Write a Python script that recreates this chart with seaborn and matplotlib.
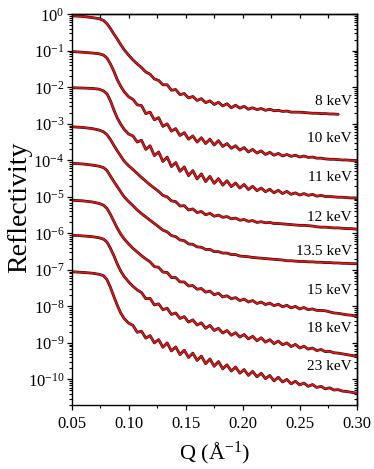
import numpy as np
import pandas as pd
import matplotlib
matplotlib.use("Agg")
import matplotlib.pyplot as plt
import matplotlib.transforms as mtransforms
from matplotlib.ticker import (LogLocator, NullFormatter, LogFormatterMathtext,
                               MultipleLocator, FormatStrFormatter)
import seaborn as sns

# ---------------- data (log10 of reflectivity) ----------------
q_values = [0.050, 0.060, 0.068, 0.074, 0.078, 0.081, 0.084, 0.087, 0.090, 0.093, 0.096, 0.100,
            0.10375, 0.1075, 0.11125, 0.115, 0.11875, 0.1225, 0.12625, 0.130, 0.13375, 0.1375,
            0.14125, 0.145, 0.14875, 0.1525, 0.15625, 0.160, 0.16375, 0.1675, 0.17125, 0.175,
            0.17875, 0.1825, 0.18625, 0.190, 0.19375, 0.1975, 0.20125, 0.205, 0.20875, 0.2125,
            0.21625, 0.220, 0.22375, 0.2275, 0.23125, 0.235, 0.23875, 0.2425, 0.24625, 0.250,
            0.25375, 0.2575, 0.26125, 0.265, 0.26875, 0.2725, 0.27625, 0.280, 0.28375, 0.2875,
            0.29125, 0.295, 0.29875, 0.300]

nan = float("nan")

log_r_8kev = [-0.04, -0.06, -0.09, -0.12, -0.17, -0.26, -0.39, -0.54, -0.68, -0.83, -0.97, -1.12,
              -1.25, -1.36, -1.46, -1.58, -1.64, -1.77, -1.81, -1.93, -1.93, -2.08, -2.06, -2.20,
              -2.17, -2.29, -2.25, -2.36, -2.31, -2.42, -2.37, -2.47, -2.41, -2.51, -2.45, -2.56,
              -2.49, -2.57, -2.52, -2.60, -2.56, -2.61, -2.58, -2.63, -2.60, -2.64, -2.63, -2.66,
              -2.65, -2.68, -2.68, -2.68, -2.69, -2.70, -2.71, -2.71, -2.72, -2.72, -2.73, -2.73,
              -2.74, nan, nan, nan, nan, nan]

log_r_10kev = [-1.02, -1.04, -1.06, -1.08, -1.12, -1.20, -1.36, -1.56, -1.79, -1.97, -2.12, -2.26,
               -2.33, -2.48, -2.50, -2.72, -2.68, -2.89, -2.83, -3.07, -3.00, -3.20, -3.13, -3.32,
               -3.24, -3.42, -3.33, -3.50, -3.38, -3.54, -3.42, -3.58, -3.46, -3.62, -3.54, -3.67,
               -3.60, -3.72, -3.65, -3.77, -3.70, -3.80, -3.74, -3.84, -3.78, -3.86, -3.81, -3.88,
               -3.84, -3.89, -3.86, -3.91, -3.88, -3.92, -3.91, -3.94, -3.94, -3.96, -3.97, -3.97,
               -3.98, -3.99, -3.99, -4.00, -4.00, -4.01]

log_r_11kev = [-2.01, -2.02, -2.03, -2.05, -2.10, -2.18, -2.37, -2.62, -2.84, -3.01, -3.15, -3.28,
               -3.33, -3.50, -3.45, -3.70, -3.60, -3.87, -3.77, -4.03, -3.91, -4.17, -4.06, -4.30,
               -4.18, -4.42, -4.28, -4.51, -4.37, -4.58, -4.44, -4.63, -4.50, -4.68, -4.56, -4.72,
               -4.62, -4.76, -4.66, -4.80, -4.71, -4.83, -4.76, -4.86, -4.79, -4.89, -4.82, -4.91,
               -4.85, -4.93, -4.89, -4.95, -4.91, -4.96, -4.93, -4.98, -4.96, -4.99, -4.99, -5.00,
               -5.01, -5.01, -5.02, -5.03, -5.03, -5.04]

log_r_12kev = [-3.08, -3.10, -3.13, -3.17, -3.22, -3.30, -3.43, -3.59, -3.74, -3.88, -4.02, -4.15,
               -4.25, -4.36, -4.47, -4.57, -4.67, -4.76, -4.85, -4.96, -5.00, -5.11, -5.13, -5.25,
               -5.24, -5.36, -5.33, -5.43, -5.40, -5.49, -5.45, -5.53, -5.50, -5.56, -5.54, -5.60,
               -5.58, -5.64, -5.62, -5.67, -5.65, -5.70, -5.68, -5.71, -5.70, -5.73, -5.73, -5.74,
               -5.75, -5.76, -5.77, -5.78, -5.78, -5.79, -5.80, -5.82, -5.83, -5.83, -5.84, -5.85,
               -5.85, -5.86, -5.87, -5.87, -5.88, -5.89]

log_r_13_5kev = [-4.08, -4.10, -4.13, -4.16, -4.20, -4.28, -4.43, -4.58, -4.72, -4.86, -5.00, -5.13,
                 -5.24, -5.36, -5.46, -5.55, -5.64, -5.73, -5.82, -5.91, -5.96, -6.06, -6.09, -6.18,
                 -6.20, -6.29, -6.30, -6.37, -6.38, -6.44, -6.44, -6.50, -6.50, -6.54, -6.54, -6.58,
                 -6.58, -6.62, -6.63, -6.64, -6.66, -6.67, -6.68, -6.69, -6.70, -6.71, -6.72, -6.73,
                 -6.75, -6.75, -6.76, -6.77, -6.77, -6.78, -6.78, -6.79, -6.79, -6.80, -6.80, -6.81,
                 -6.81, -6.82, -6.82, -6.83, -6.83, -6.83]

log_r_15kev = [-5.09, -5.11, -5.14, -5.18, -5.23, -5.32, -5.48, -5.67, -5.86, -6.02, -6.15, -6.29,
               -6.41, -6.51, -6.61, -6.70, -6.78, -6.91, -6.93, -7.06, -7.07, -7.21, -7.21, -7.33,
               -7.33, -7.44, -7.43, -7.53, -7.51, -7.61, -7.58, -7.68, -7.64, -7.74, -7.71, -7.79,
               -7.76, -7.84, -7.80, -7.88, -7.84, -7.92, -7.88, -7.95, -7.91, -7.98, -7.94, -8.01,
               -7.97, -8.04, -8.00, -8.07, -8.03, -8.09, -8.07, -8.11, -8.11, -8.12, -8.15, -8.18,
               -8.19, -8.21, -8.23, -8.24, -8.26, -8.27]

log_r_18kev = [-6.05, -6.07, -6.09, -6.12, -6.16, -6.24, -6.41, -6.61, -6.84, -7.03, -7.18, -7.33,
               -7.45, -7.55, -7.62, -7.79, -7.78, -7.96, -7.93, -8.09, -8.05, -8.22, -8.18, -8.33,
               -8.28, -8.43, -8.37, -8.51, -8.45, -8.60, -8.52, -8.66, -8.60, -8.73, -8.66, -8.79,
               -8.72, -8.84, -8.77, -8.89, -8.82, -8.94, -8.86, -8.98, -8.91, -9.02, -8.95, -9.05,
               -9.00, -9.10, -9.04, -9.14, -9.09, -9.17, -9.14, -9.21, -9.18, -9.24, -9.23, -9.27,
               -9.28, -9.30, -9.32, -9.34, -9.36, -9.37]

log_r_23kev = [-7.05, -7.07, -7.09, -7.12, -7.16, -7.27, -7.48, -7.73, -7.97, -8.18, -8.33, -8.46,
               -8.52, -8.71, -8.68, -8.87, -8.80, -9.00, -8.91, -9.12, -9.00, -9.22, -9.11, -9.32,
               -9.20, -9.40, -9.28, -9.48, -9.36, -9.57, -9.44, -9.64, -9.51, -9.71, -9.60, -9.77,
               -9.66, -9.83, -9.73, -9.89, -9.78, -9.93, -9.83, -9.98, -9.89, -10.04, -9.94, -10.07,
               -10.00, -10.12, -10.05, -10.15, -10.10, -10.19, -10.14, -10.22, -10.19, -10.26, -10.23, -10.29,
               -10.28, -10.32, -10.33, -10.35, -10.37, -10.38]

energy_labels = ["8 keV", "10 keV", "11 keV", "12 keV", "13.5 keV", "15 keV", "18 keV", "23 keV"]
series = [log_r_8kev, log_r_10kev, log_r_11kev, log_r_12kev,
          log_r_13_5kev, log_r_15kev, log_r_18kev, log_r_23kev]

# label placement (log10 of the vertical position of each energy tag)
label_log_y = [-2.375, -3.40, -4.48, -5.56, -6.50, -7.57, -8.60, -9.64]

for s in series:
    assert len(s) == len(q_values)

rows = []
for lab, s in zip(energy_labels, series):
    for q, lr in zip(q_values, s):
        if not np.isnan(lr):
            rows.append({"Q": q, "R": 10.0 ** lr, "energy": lab})
df = pd.DataFrame(rows)

# ---------------- style ----------------
sns.set_style("ticks", {"axes.edgecolor": "black", "xtick.color": "black",
                        "ytick.color": "black", "text.color": "black",
                        "axes.labelcolor": "black"})
plt.rcParams["font.family"] = ["Liberation Serif", "DejaVu Serif"]
plt.rcParams["mathtext.fontset"] = "custom"
plt.rcParams["mathtext.rm"] = "Liberation Serif"
plt.rcParams["mathtext.it"] = "Liberation Serif:italic"
plt.rcParams["mathtext.bf"] = "Liberation Serif:bold"

fig = plt.figure(figsize=(3.74, 4.69), dpi=100)
ax = fig.add_axes([0.1917, 0.1365, 0.7620, 0.8330])

sns.lineplot(data=df, x="Q", y="R", units="energy", estimator=None, sort=False,
             color="#111111", linewidth=2.0, ax=ax, legend=False)
sns.lineplot(data=df, x="Q", y="R", units="energy", estimator=None, sort=False,
             color="#ee1111", linewidth=1.2, ax=ax, legend=False)

ax.set_yscale("log")
ax.set_xlim(0.05, 0.30)
ax.set_ylim(10 ** -10.70, 1.0)

for sp in ax.spines.values():
    sp.set_linewidth(1.0)
    sp.set_color("black")

ax.xaxis.set_major_locator(MultipleLocator(0.05))
ax.xaxis.set_minor_locator(MultipleLocator(0.025))
ax.xaxis.set_major_formatter(FormatStrFormatter("%.2f"))
ax.yaxis.set_major_locator(LogLocator(base=10, numticks=40))
ax.yaxis.set_minor_locator(LogLocator(base=10, subs=np.arange(2, 10) * 1.0, numticks=40))
ax.yaxis.set_major_formatter(LogFormatterMathtext())
ax.yaxis.set_minor_formatter(NullFormatter())

ax.tick_params(which="major", direction="out", length=3.8, width=0.9, labelsize=12,
               top=False, right=False)
ax.tick_params(axis="y", which="major", pad=1.5)
ax.tick_params(axis="x", which="major", pad=4)
ax.tick_params(which="minor", direction="out", length=2.2, width=0.8, top=False, right=False)

# mirrored inward ticks on top and right
secx = ax.secondary_xaxis("top")
secx.xaxis.set_major_locator(MultipleLocator(0.025))
secx.tick_params(which="major", direction="in", length=3.2, width=0.9, labeltop=False)
secx.spines["top"].set_linewidth(1.0)

secy = ax.secondary_yaxis("right")
secy.yaxis.set_major_locator(LogLocator(base=10, numticks=40))
secy.yaxis.set_minor_locator(LogLocator(base=10, subs=np.arange(2, 10) * 1.0, numticks=40))
secy.yaxis.set_minor_formatter(NullFormatter())
secy.tick_params(which="major", direction="in", length=3.8, width=0.9, labelright=False)
secy.tick_params(which="minor", direction="in", length=2.2, width=0.8, labelright=False)
secy.spines["right"].set_linewidth(1.0)

ax.set_xlabel("Q (Å$^{-1}$)", fontsize=16)
ax.xaxis.label.set_va("center")
ax.xaxis.set_label_coords(0.5, -0.123)
ax.set_ylabel("Reflectivity", fontsize=20)
ax.yaxis.label.set_va("center")
ax.yaxis.set_label_coords(-0.181, 0.505)

blend = mtransforms.blended_transform_factory(ax.transAxes, ax.transData)
for lab, ly in zip(energy_labels, label_log_y):
    ax.text(0.982, 10 ** ly, lab, transform=blend, ha="right", va="center", fontsize=11)

fig.savefig("out.png", dpi=100)
